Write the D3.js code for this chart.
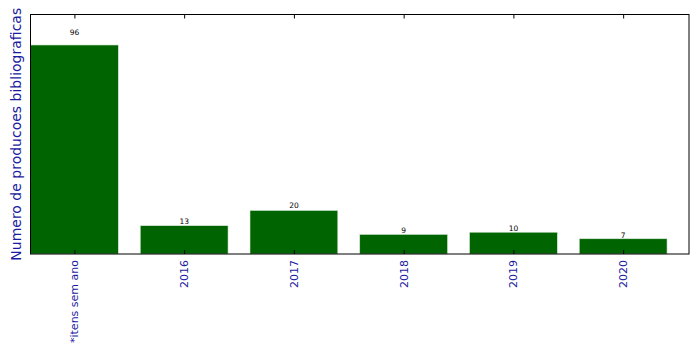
<!DOCTYPE html>
<html>
<head>
<meta charset="utf-8">
<script src="https://cdn.jsdelivr.net/npm/d3@7"></script>
<style>
body{margin:0;background:#fff;}
text{font-family:"DejaVu Sans",sans-serif;}
</style>
</head>
<body>
<svg id="chart" width="699" height="354"></svg>
<script>
let categories = ["*itens sem ano","2016","2017","2018","2019","2020"];
let counts = [96,13,20,9,10,7];

let width = 699, height = 354;
let margin = {left:30.5, right:10, top:14.5, bottom:100};
let svg = d3.select("#chart");

let x0 = margin.left, x1 = 689;
let y0 = 254, y1 = margin.top;

// category positions, xlim -0.4 .. 5.6 like matplotlib
let x = d3.scaleLinear().domain([-0.4, categories.length - 0.4]).range([x0, x1]);
let y = d3.scaleLinear().domain([0, 110]).range([y0, y1]);
let bw = 0.8;

svg.selectAll("rect.bar")
.data(counts)
.enter()
.append("rect")
.attr("class","bar")
.attr("x",(d,i)=>x(i - bw/2))
.attr("width",(d,i)=>x(i + bw/2) - x(i - bw/2))
.attr("y",d=>y(d))
.attr("height",d=>y(0) - y(d))
.style("fill","#006400")
.style("stroke","#d8e8d8")
.style("stroke-width",0.6);

svg.selectAll("text.val")
.data(counts)
.enter()
.append("text")
.attr("class","val")
.attr("x",(d,i)=>x(i))
.attr("y",d=>y(d*1.05))
.attr("text-anchor","middle")
.style("font-size","7.5px")
.style("fill","#000")
.text(d=>d);

// ticks inside, top and bottom
let axisB = d3.axisBottom(x).tickValues(d3.range(categories.length)).tickSizeInner(-4).tickSizeOuter(0).tickFormat("");
let axisT = d3.axisTop(x).tickValues(d3.range(categories.length)).tickSizeInner(-4).tickSizeOuter(0).tickFormat("");
svg.append("g").attr("transform",`translate(0,${y0})`).call(axisB).call(g=>g.select(".domain").remove());
svg.append("g").attr("transform",`translate(0,${y1})`).call(axisT).call(g=>g.select(".domain").remove());

svg.append("rect")
.attr("x",x0).attr("y",y1)
.attr("width",x1-x0).attr("height",y0-y1)
.style("fill","none").style("stroke","#000").style("stroke-width",1);

svg.selectAll("text.cat")
.data(categories)
.enter()
.append("text")
.attr("class","cat")
.attr("transform",(d,i)=>`translate(${x(i)+4},${y0+6}) rotate(-90)`)
.attr("text-anchor","end")
.style("font-size","11px")
.style("fill","#1a1aa0")
.text(d=>d);

svg.append("text")
.attr("transform",`translate(${21},${(y0+y1)/2}) rotate(-90)`)
.attr("text-anchor","middle")
.style("font-size","14px")
.style("fill","#1a1aa0")
.text("Numero de producoes bibliograficas");
</script>
</body>
</html>
